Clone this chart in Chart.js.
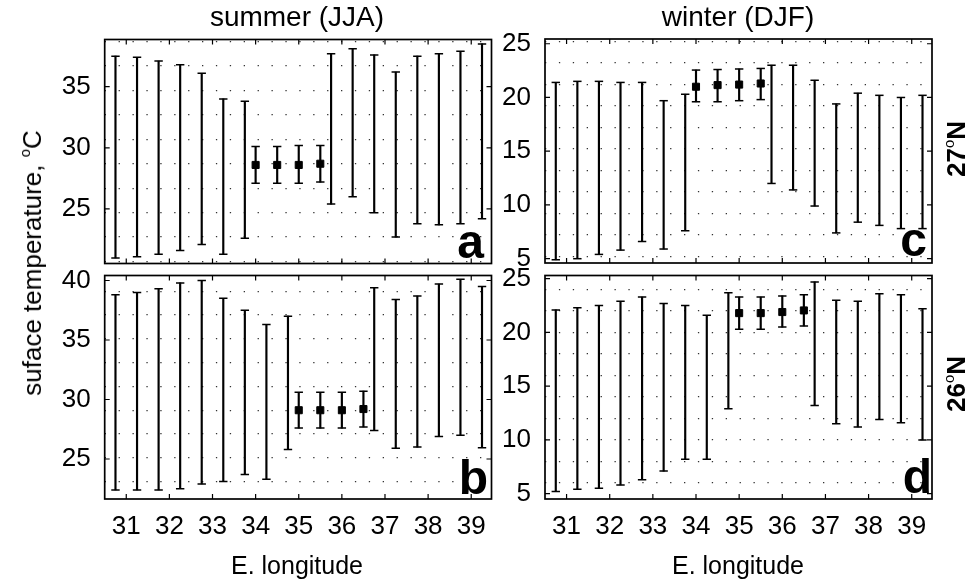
<!DOCTYPE html>
<html>
<head>
<meta charset="utf-8">
<script src="https://cdn.jsdelivr.net/npm/chart.js@4"></script>
<style>
    body { margin: 0; background: #fff; }
    #wrap { position: relative; width: 971px; height: 584px; overflow: hidden;
            font-family: "Liberation Sans", Arial, sans-serif; color: #000; }
    canvas { position: absolute; left: 0; top: 0; }
    .t { position: absolute; white-space: nowrap; font-size: 25px; line-height: 1; transform: translate(-50%, -50%); }
    .ttl { font-size: 28px; }
    .rot { transform: translate(-50%, -50%) rotate(-90deg); }
    .yl { font-size: 26px; }
    .lat { font-weight: bold; font-size: 26px; }
    .lat sup, .yl sup { font-weight: normal; font-size: 15px; vertical-align: 11px; }
    .let { position: absolute; font-size: 48px; font-weight: bold; line-height: 48px; text-align: right; }
</style>
</head>
<body>
<div id="wrap">
    <canvas id="pa" width="971" height="584"></canvas>
    <canvas id="pb" width="971" height="584"></canvas>
    <canvas id="pc" width="971" height="584"></canvas>
    <canvas id="pd" width="971" height="584"></canvas>

    <div class="t ttl" style="left:297px; top:17px;">summer (JJA)</div>
    <div class="t ttl" style="left:738px; top:17px;">winter (DJF)</div>
    <div class="t" style="left:297px; top:565px;">E. longitude</div>
    <div class="t" style="left:738px; top:565px;">E. longitude</div>
    <div class="t rot yl" style="left:31px; top:263px;">suface temperature, <sup>o</sup>C</div>
    <div class="t rot lat" style="left:955px; top:149px;">27<sup>o</sup>N</div>
    <div class="t rot lat" style="left:955px; top:384px;">26<sup>o</sup>N</div>

    <div class="let" style="right:487px; top:218px;">a</div>
    <div class="let" style="right:483px; top:454px;">b</div>
    <div class="let" style="right:44px; top:216px;">c</div>
    <div class="let" style="right:39px; top:453px;">d</div>
</div>
<script>
// tick labels
const xTicks = [31, 32, 33, 34, 35, 36, 37, 38, 39];
const yTicksA = [25, 30, 35];
const yTicksB = [25, 30, 35, 40];
const yTicksC = [5, 10, 15, 20, 25];
const yTicksD = [5, 10, 15, 20, 25];
// dotted grid rows
const gridA = [20.7, 22.7, 24.7, 26.7, 28.7, 30.7, 32.7, 34.7, 36.7, 38.7];
const gridB = [23.1, 25.1, 27.1, 29.1, 31.1, 33.1, 35.1, 37.1, 39.1];
const gridC = [5.2, 7.2, 9.2, 11.2, 13.2, 15.2, 17.2, 19.2, 21.2, 23.2, 25.2];
const gridD = [6, 8, 10, 12, 14, 16, 18, 20, 22, 24];

// a: summer, 27N
const aBarX  = [30.75, 31.25, 31.75, 32.25, 32.75, 33.25, 33.75, 35.75, 36.25, 36.75, 37.25, 37.75, 38.25, 38.75, 39.25];
const aBarLo = [21.0, 21.1, 21.3, 21.6, 22.1, 21.3, 22.6, 25.4, 26.0, 24.7, 22.7, 23.8, 23.7, 23.8, 24.2];
const aBarHi = [37.5, 37.4, 37.1, 36.8, 36.1, 34.0, 33.8, 37.7, 38.1, 37.6, 36.2, 37.5, 37.7, 37.9, 38.5];
const aObsX    = [34, 34.5, 35, 35.5];
const aObsMean = [28.6, 28.6, 28.6, 28.7];
const aObsLo   = [27.1, 27.1, 27.1, 27.2];
const aObsHi   = [30.1, 30.1, 30.2, 30.2];

// b: summer, 26N
const bBarX  = [30.75, 31.25, 31.75, 32.25, 32.75, 33.25, 33.75, 34.25, 34.75, 36.75, 37.25, 37.75, 38.25, 38.75, 39.25];
const bBarLo = [22.4, 22.4, 22.4, 22.5, 22.9, 23.1, 23.7, 23.3, 25.8, 27.4, 25.9, 26.0, 26.9, 27.0, 25.95];
const bBarHi = [38.8, 39.0, 39.3, 39.8, 40.0, 38.5, 37.5, 36.3, 37.0, 39.4, 38.4, 38.7, 39.7, 40.1, 39.5];
const bObsX    = [35, 35.5, 36, 36.5];
const bObsMean = [29.1, 29.1, 29.1, 29.2];
const bObsLo   = [27.6, 27.6, 27.6, 27.7];
const bObsHi   = [30.6, 30.6, 30.6, 30.7];

// c: winter, 27N
const cBarX  = [30.75, 31.25, 31.75, 32.25, 32.75, 33.25, 33.75, 35.75, 36.25, 36.75, 37.25, 37.75, 38.25, 38.75, 39.25];
const cBarLo = [4.9, 5.0, 5.4, 5.8, 6.6, 5.9, 7.6, 12.0, 11.4, 9.9, 7.4, 8.4, 8.1, 7.8, 7.8];
const cBarHi = [21.4, 21.5, 21.5, 21.4, 21.4, 19.7, 20.3, 23.0, 23.0, 21.6, 19.4, 20.4, 20.2, 20.0, 20.2];
const cObsX    = [34, 34.5, 35, 35.5];
const cObsMean = [21.0, 21.15, 21.2, 21.3];
const cObsLo   = [19.6, 19.6, 19.7, 19.8];
const cObsHi   = [22.55, 22.6, 22.65, 22.7];

// d: winter, 26N
const dBarX  = [30.75, 31.25, 31.75, 32.25, 32.75, 33.25, 33.75, 34.25, 34.75, 36.75, 37.25, 37.75, 38.25, 38.75, 39.25];
const dBarLo = [5.2, 5.4, 5.5, 5.8, 6.3, 7.1, 8.2, 8.2, 12.9, 13.2, 11.5, 11.2, 11.9, 11.6, 10.0];
const dBarHi = [22.1, 22.3, 22.5, 22.9, 23.3, 22.7, 22.5, 21.6, 23.7, 24.7, 23.0, 22.9, 23.6, 23.5, 22.2];
const dObsX    = [35, 35.5, 36, 36.5];
const dObsMean = [21.8, 21.8, 21.9, 22.05];
const dObsLo   = [20.3, 20.3, 20.5, 20.6];
const dObsHi   = [23.3, 23.3, 23.4, 23.5];

const FONT = '"Liberation Sans", Arial, sans-serif';
Chart.defaults.font.family = FONT;
Chart.defaults.color = '#000';

// box and inward tick marks, matlab style
const framePlugin = {
    id: 'frame',
    afterDraw(chart) {
        const { ctx, chartArea: a, scales } = chart;
        ctx.save();
        ctx.strokeStyle = '#000';
        ctx.lineWidth = 1.2;
        ctx.beginPath();
        scales.x.ticks.forEach(t => {
            const px = scales.x.getPixelForValue(t.value);
            ctx.moveTo(px, a.bottom); ctx.lineTo(px, a.bottom - 5);
            ctx.moveTo(px, a.top); ctx.lineTo(px, a.top + 5);
        });
        scales.y.ticks.forEach(t => {
            const py = scales.y.getPixelForValue(t.value);
            ctx.moveTo(a.left, py); ctx.lineTo(a.left + 5, py);
            ctx.moveTo(a.right, py); ctx.lineTo(a.right - 5, py);
        });
        ctx.stroke();
        ctx.lineWidth = 1.7;
        ctx.strokeRect(a.left, a.top, a.right - a.left, a.bottom - a.top);
        ctx.restore();
    }
};

function makePanel(id, box, ymin, ymax, yTicks, grid, showX, barX, lo, hi, obsX, mean, olo, ohi) {
    const YW = 50, XH = 40;
    const ranges = barX.map((x, i) => ({ x: x, y: [lo[i], hi[i]] }))
        .concat(obsX.map((x, i) => ({ x: x, y: [olo[i], ohi[i]] })));
    const caps = barX.map((x, i) => ({ x: x, y: lo[i] }))
        .concat(barX.map((x, i) => ({ x: x, y: hi[i] })))
        .concat(obsX.map((x, i) => ({ x: x, y: olo[i] })))
        .concat(obsX.map((x, i) => ({ x: x, y: ohi[i] })));
    const marks = obsX.map((x, i) => ({ x: x, y: mean[i] }));

    new Chart(document.getElementById(id), {
        type: 'bar',
        data: {
            datasets: [
                {
                    type: 'bar', data: ranges, backgroundColor: '#000', borderWidth: 0,
                    barThickness: 1.5, grouped: false
                },
                {
                    type: 'scatter', data: caps, pointStyle: 'line', pointRadius: 4.2,
                    pointBorderColor: '#000', pointBorderWidth: 1.5, pointBackgroundColor: '#000'
                },
                {
                    type: 'scatter', data: marks, pointStyle: 'rect', pointRadius: 5,
                    pointBorderColor: '#000', pointBorderWidth: 1, pointBackgroundColor: '#000'
                }
            ]
        },
        options: {
            responsive: false,
            animation: false,
            events: [],
            layout: {
                padding: { left: box.left - YW, top: box.top, right: 971 - box.right, bottom: 584 - box.bottom - XH }
            },
            plugins: { legend: { display: false }, tooltip: { enabled: false } },
            scales: {
                x: {
                    type: 'linear', min: 30.5, max: 39.47, bounds: 'data', offset: false,
                    afterBuildTicks: s => { s.ticks = xTicks.map(v => ({ value: v })); },
                    afterFit: s => { s.height = XH; },
                    grid: { display: false, offset: false },
                    border: { display: false },
                    ticks: {
                        display: showX, color: '#000', font: { size: 26 }, padding: 4,
                        maxRotation: 0, autoSkip: false, callback: v => String(v)
                    }
                },
                y: {
                    type: 'linear', position: 'left', min: ymin, max: ymax, bounds: 'data',
                    afterBuildTicks: s => { s.ticks = yTicks.map(v => ({ value: v })); },
                    afterFit: s => { s.width = YW; },
                    grid: { display: false },
                    border: { display: false },
                    ticks: { color: '#000', font: { size: 26 }, padding: 6, callback: v => String(v) }
                },
                yg: {
                    type: 'linear', position: 'right', min: ymin, max: ymax, bounds: 'data',
                    afterBuildTicks: s => { s.ticks = grid.map(v => ({ value: v })); },
                    afterFit: s => { s.width = 0; },
                    grid: { display: true, drawTicks: false, color: '#333', lineWidth: 1.2, borderDash: [1.3, 12.6] },
                    border: { display: false, dash: [1.3, 12.6] },
                    ticks: { display: false }
                }
            }
        },
        plugins: [framePlugin]
    });
}

makePanel('pa', { left: 104.7, top: 39.5, right: 491.5, bottom: 263.5 }, 20.54, 38.86, yTicksA, gridA, false,
    aBarX, aBarLo, aBarHi, aObsX, aObsMean, aObsLo, aObsHi);
makePanel('pb', { left: 104.7, top: 275.5, right: 491.5, bottom: 499 }, 21.64, 40.42, yTicksB, gridB, true,
    bBarX, bBarLo, bBarHi, bObsX, bObsMean, bObsLo, bObsHi);
makePanel('pc', { left: 545, top: 39, right: 932, bottom: 263 }, 4.6, 25.44, yTicksC, gridC, false,
    cBarX, cBarLo, cBarHi, cObsX, cObsMean, cObsLo, cObsHi);
makePanel('pd', { left: 545, top: 275.5, right: 932, bottom: 499 }, 4.5, 25.3, yTicksD, gridD, true,
    dBarX, dBarLo, dBarHi, dObsX, dObsMean, dObsLo, dObsHi);
</script>
</body>
</html>
